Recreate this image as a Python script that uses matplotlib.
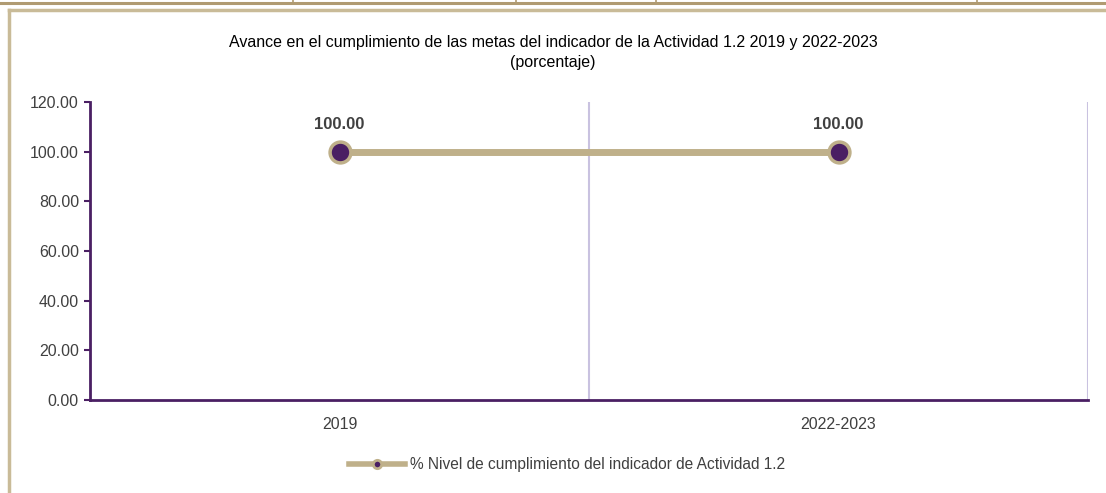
import matplotlib
matplotlib.use("Agg")
import matplotlib.pyplot as plt
from matplotlib.lines import Line2D

plt.rcParams['font.family'] = ['Liberation Sans', 'DejaVu Sans']

categories = ["2019", "2022-2023"]
values = [100.00, 100.00]
yticks = [0, 20, 40, 60, 80, 100, 120]
title_main = "Avance en el cumplimiento de las metas del indicador de la Actividad 1.2 2019 y 2022-2023"
title_sub = "(porcentaje)"
series_name = "% Nivel de cumplimiento del indicador de Actividad 1.2"

W, H = 1106, 493
fig = plt.figure(figsize=(W / 100, H / 100), dpi=100)

tan_dark = "#B09B72"
tan_light = "#C9BB98"
line_c = "#BFB08A"
purple = "#4A1F63"
grid_c = "#C9C2E0"
text_c = "#404040"

# page strip above the chart frame
fig.add_artist(Line2D([0, 1], [1 - 3 / H, 1 - 3 / H], color=tan_dark, lw=2.2, transform=fig.transFigure))
for xp in [293, 516, 656, 977]:
    fig.add_artist(Line2D([xp / W, xp / W], [1, 1 - 3 / H], color=tan_dark, lw=1.2, transform=fig.transFigure))
# chart frame
fig.add_artist(Line2D([9 / W, 1], [1 - 10 / H, 1 - 10 / H], color=tan_light, lw=2.5, transform=fig.transFigure))
fig.add_artist(Line2D([9 / W, 9 / W], [1 - 10 / H, 0], color=tan_light, lw=2.5, transform=fig.transFigure))

ax = fig.add_axes([90 / W, 1 - 400 / H, (1088 - 90) / W, (400 - 102) / H])

x = list(range(len(categories)))
ax.set_xlim(-0.5, len(categories) - 0.5)
ax.set_ylim(0, 120)

# vertical separators between categories
for b in [i + 0.5 for i in x]:
    ax.axvline(b, color=grid_c, lw=1.5, zorder=1)

ax.plot(x, values, color=line_c, lw=5, solid_capstyle="butt", zorder=3,
        marker="o", markersize=15, markerfacecolor=purple,
        markeredgecolor=line_c, markeredgewidth=2.5)

for xi, v in zip(x, values):
    ax.annotate(f"{v:.2f}", (xi, v), xytext=(0, 14), textcoords="offset points",
                ha="center", va="bottom", fontsize=12, fontweight="bold", color=text_c)

ax.set_yticks(yticks)
ax.set_yticklabels([f"{t:.2f}" for t in yticks], fontsize=11.5, color=text_c)
ax.set_xticks(x)
ax.set_xticklabels(categories, fontsize=11.5, color=text_c)
ax.tick_params(axis="y", length=4, width=1.5, color=purple, pad=4)
ax.tick_params(axis="x", length=0, pad=12)

for s in ["top", "right"]:
    ax.spines[s].set_visible(False)
for s in ["left", "bottom"]:
    ax.spines[s].set_color(purple)
    ax.spines[s].set_linewidth(2)

fig.text(0.5, 1 - 43 / H, title_main, ha="center", va="center", fontsize=11.5, color="#000000")
fig.text(0.5, 1 - 62 / H, title_sub, ha="center", va="center", fontsize=11.5, color="#000000")

handle = Line2D([], [], color=line_c, lw=4, marker="o", markersize=6,
                markerfacecolor=purple, markeredgecolor=line_c, markeredgewidth=2)
fig.legend([handle], [series_name], loc="center", bbox_to_anchor=(567 / W, 1 - 465 / H),
           frameon=False, fontsize=11.2, handlelength=3.6, handletextpad=0.3,
           labelcolor=text_c)

fig.savefig("out.png", dpi=100)
